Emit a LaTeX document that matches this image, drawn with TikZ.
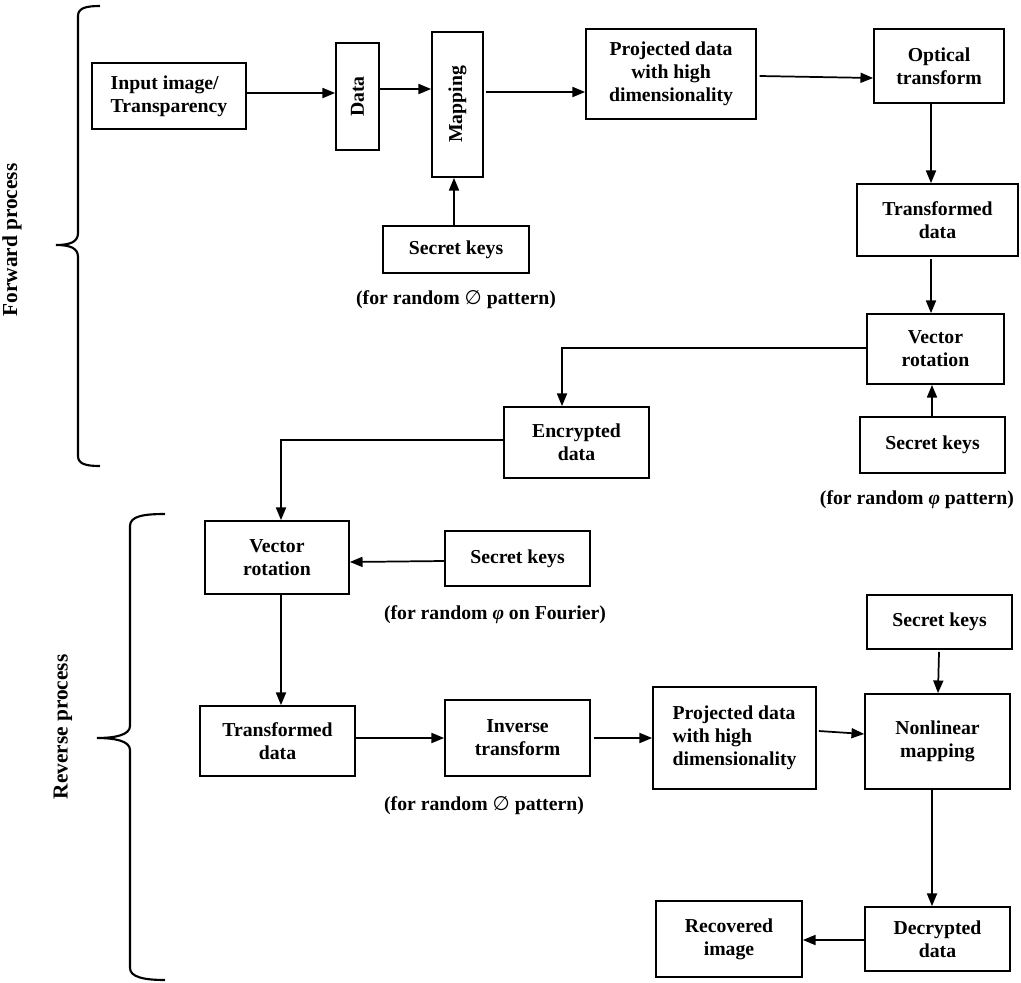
\documentclass[tikz,border=0pt]{standalone}
\usepackage{fontspec}
\setmainfont{Liberation Serif}
\newfontfamily\symfnt{DejaVu Sans}
\usetikzlibrary{arrows.meta}
\begin{document}
\begin{tikzpicture}[x=0.75pt,y=-0.75pt,
  box/.style 2 args={draw, line width=1.3pt, inner sep=1pt, align=center,
    minimum width=#1*0.75pt, minimum height=#2*0.75pt,
    font=\fontsize{14.8}{17.3}\selectfont\bfseries},
  lbl/.style={inner sep=0pt, font=\fontsize{14.8}{17.3}\selectfont\bfseries},
  side/.style={inner sep=0pt, rotate=90, font=\fontsize{16}{19}\selectfont\bfseries},
  arr/.style={line width=1.3pt, -{Triangle[length=9.5pt,width=7.5pt]}},
  ln/.style={line width=1.3pt},
  brace/.style={line width=1.6pt}]
\useasboundingbox[fill=white] (0,0) rectangle (1021,982);

% forward process
\node[box={154}{66}, align=left] (inp) at (169,96) {Input image/\\Transparency};
\node[box={43}{107}] (data) at (357.5,96.5) {};
\node[lbl, rotate=90] (datat) at (data.center) {Data};
\node[box={51}{145}] (map) at (457.5,104.5) {};
\node[lbl, rotate=90] (mapt) at (map.center) {Mapping};
\node[box={146}{47}] (sk1) at (456,249.5) {Secret keys};
\node[lbl] (l1) at (456,300) {(for random {\symfnt\mdseries ∅} pattern)};
\node[box={170}{90}] (proj1) at (671,74) {Projected data\\with high\\dimensionality};
\node[box={130}{74}] (opt) at (939,66) {Optical\\transform};
\node[box={161}{72}] (tr1) at (937.5,220) {Transformed\\data};
\node[box={137}{70}] (vr1) at (935.5,349) {Vector\\rotation};
\node[box={145}{56}] (sk2) at (932.5,445) {Secret keys};
\node[lbl] (l2) at (917,500) {(for random \textit{φ} pattern)};
\node[box={145}{71}] (enc) at (576.5,442.5) {Encrypted\\data};

% reverse process
\node[box={144}{73}] (vr2) at (277,557.5) {Vector\\rotation};
\node[box={145}{55}] (sk3) at (517.5,558.5) {Secret keys};
\node[lbl] (l3) at (495,615) {(for random \textit{φ} on Fourier)};
\node[box={155}{70}] (tr2) at (277.5,741) {Transformed\\data};
\node[box={145}{76}] (inv) at (517.5,738) {Inverse\\transform};
\node[lbl] (l4) at (484,806) {(for random {\symfnt\mdseries ∅} pattern)};
\node[box={163}{102}, align=left] (proj2) at (734.5,738) {Projected data\\with high\\dimensionality};
\node[box={145}{54}] (sk4) at (939.5,622) {Secret keys};
\node[box={145}{95}] (nl) at (937.5,741.5) {Nonlinear\\mapping};
\node[box={145}{64}] (dec) at (937.5,939) {Decrypted\\data};
\node[box={146}{76}] (rec) at (729,939) {Recovered\\image};

% connectors
\draw[arr] (inp.east |- 0,93) -- (data.west |- 0,93);
\draw[arr] (data.east |- 0,89) -- (map.west |- 0,89);
\draw[arr] ([xshift=1.5pt]map.east |- 0,92) -- (proj1.west |- 0,92);
\draw[arr] ([xshift=2pt]proj1.east |- 0,76) -- (opt.west |- 0,78);
\draw[arr] (opt.south -| 931,0) -- (tr1.north -| 931,0);
\draw[arr] ([yshift=-1.5pt]tr1.south -| 931,0) -- (vr1.north -| 931,0);
\draw[arr] (sk2.north -| 932,0) -- (vr1.south -| 932,0);
\draw[arr] (sk1.north -| 454,0) -- (map.south -| 454,0);
\draw[arr] (vr1.west |- 0,348) -| (enc.north -| 562,0);
\draw[arr] (enc.west |- 0,440) -| (vr2.north -| 281,0);
\draw[arr] (sk3.west |- 0,561) -- (vr2.east |- 0,562);
\draw[arr] (vr2.south -| 281,0) -- (tr2.north -| 281,0);
\draw[arr] (tr2.east |- 0,738) -- (inv.west |- 0,738);
\draw[arr] ([xshift=2pt]inv.east |- 0,738) -- (proj2.west |- 0,738);
\draw[arr] ([xshift=1.5pt]proj2.east |- 0,731) -- (nl.west |- 0,734);
\draw[arr] ([yshift=-1.5pt]sk4.south -| 939,0) -- (nl.north -| 938,0);
\draw[arr] (nl.south -| 932,0) -- (dec.north -| 932,0);
\draw[arr] (dec.west |- 0,940) -- (rec.east |- 0,940);

% braces
\draw[brace] (100,6) .. controls (86,6) and (78,8) .. (78,16) -- (78,233)
  .. controls (78,242) and (70,245) .. (56,245)
  .. controls (70,245) and (78,248) .. (78,257) -- (78,456)
  .. controls (78,464) and (86,466) .. (100,466);
\node[side] (fwd) at (12,240) {Forward process};
\draw[brace] (165,514) .. controls (144,514) and (130,516) .. (130,526) -- (130,726)
  .. controls (130,735) and (115,738) .. (97,738)
  .. controls (115,738) and (130,741) .. (130,750) -- (130,968)
  .. controls (130,977) and (144,980) .. (165,980);
\node[side] (rev) at (63,727) {Reverse process};
\end{tikzpicture}
\end{document}
